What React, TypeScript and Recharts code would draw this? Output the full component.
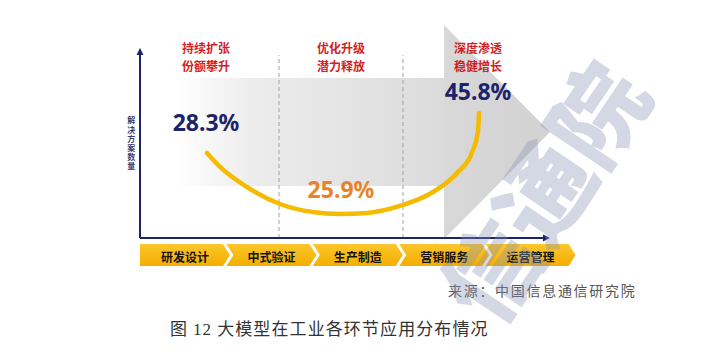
import React from 'react';
import {
  ComposedChart,
  Line,
  Scatter,
  XAxis,
  YAxis,
  ReferenceLine,
  ReferenceArea,
  ReferenceDot,
} from 'recharts';

document.body.style.margin = '0';

// stages along the value chain (x axis chevrons)
const stages = ['研发设计', '中式验证', '生产制造', '营销服务', '运营管理'];
const stageTicks = [0.5, 1.5, 2.5, 3.5, 4.5];

// phase headings + shares
const phaseTop = ['持续扩张', '优化升级', '深度渗透'];
const phaseBottom = ['份额攀升', '潜力释放', '稳健增长'];
const shares = ['28.3%', '25.9%', '45.8%'];
const shareX = [0.764, 2.326, 3.912];
const shareY = [49.1, 18.3, 63.3];

// smile curve
const curveX = [0.775, 0.926, 1.238, 1.62, 2.002, 2.315, 2.627, 3.009, 3.391, 3.669, 3.854, 3.912, 3.924];
const curveY = [39.0, 32.6, 23.4, 15.6, 11.9, 11.0, 11.5, 14.7, 21.1, 29.8, 40.4, 49.1, 57.3];

// phase dividers
const dividerX = [1.609, 3.044];

const curveData = curveX.map((x, i) => ({ x, y: curveY[i] }));
const shareData = shares.map((label, i) => ({ x: shareX[i], y: shareY[i], label, idx: i }));
const phaseData = phaseTop.map((t, i) => ({ x: shareX[i], y: 84.4, top: t, bottom: phaseBottom[i] }));

const NAVY = '#1c2368';
const RED = '#d21e24';

const StageTick = (props: any) => {
  const { x, y, payload } = props;
  const i = Math.floor(payload.value);
  const L = x - 43.2;
  const top = y + 6;
  const bot = y + 28;
  const mid = (top + bot) / 2;
  const pts =
    i === 0
      ? `${L},${top} ${L + 83},${top} ${L + 90},${mid} ${L + 83},${bot} ${L},${bot}`
      : `${L},${top} ${L + 83},${top} ${L + 90},${mid} ${L + 83},${bot} ${L},${bot} ${L + 7},${mid}`;
  return (
    <g>
      <polygon points={pts} fill="url(#chevGrad)" />
      <text
        x={L + 45}
        y={mid + 1}
        textAnchor="middle"
        dominantBaseline="central"
        fontSize={12}
        fontWeight={700}
        fill="#141414"
        fontFamily="'Noto Sans CJK SC', sans-serif"
      >
        {stages[i]}
      </text>
    </g>
  );
};

const ShareLabel = (props: any) => {
  const { cx, cy, payload } = props;
  const color = payload.idx === 1 ? '#e8832a' : NAVY;
  return (
    <text
      x={cx}
      y={cy}
      textAnchor="middle"
      fontSize={23}
      fontWeight={700}
      fontFamily="'Noto Sans', sans-serif"
      fill={color}
    >
      {payload.label}
    </text>
  );
};

// two-line red heading
const PhaseLabel = (props: any) => {
  const { cx, cy, payload } = props;
  const common = {
    x: cx,
    textAnchor: 'middle' as const,
    fontSize: 12,
    fontWeight: 700,
    fill: RED,
    fontFamily: "'Noto Sans CJK SC', sans-serif",
  };
  return (
    <g>
      <text {...common} y={cy - 1}>
        {payload.top}
      </text>
      <text {...common} y={cy + 16.5}>
        {payload.bottom}
      </text>
    </g>
  );
};

const ArrowHead = (dir: 'up' | 'right') => (props: any) => {
  const { cx, cy } = props;
  const pts =
    dir === 'up'
      ? `${cx - 3.5},${cy + 7} ${cx},${cy} ${cx + 3.5},${cy + 7}`
      : `${cx - 7},${cy - 3.5} ${cx},${cy} ${cx - 7},${cy + 3.5}`;
  return <polygon points={pts} fill={NAVY} />;
};

// vertical y-axis title, one text element written top to bottom
const YTitle = (props: any) => {
  const { cx, cy } = props;
  return (
    <text
      x={cx}
      y={cy}
      fontSize={8}
      fontWeight={700}
      fill="#3a3f6e"
      textAnchor="middle"
      fontFamily="'Noto Sans CJK SC', sans-serif"
      style={{ writingMode: 'vertical-rl', letterSpacing: 1.2 }}
    >
      解决方案数量
    </text>
  );
};

const HeadShape = (props: any) => {
  const { x, y, width, height } = props;
  const pts = `${x},${y} ${x + width},${y + height / 2} ${x},${y + height}`;
  return <polygon points={pts} fill="url(#headGrad)" />;
};

export default function App() {
  return (
    <div style={{ position: 'relative', width: 718, height: 354, background: '#fff', overflow: 'hidden' }}>
      <ComposedChart
        width={718}
        height={354}
        margin={{ top: 20, right: 146, left: 140, bottom: 86 }}
      >
        <defs>
          <linearGradient id="shaftGrad" x1="0" y1="0" x2="1" y2="0">
            <stop offset="0%" stopColor="#ffffff" />
            <stop offset="30%" stopColor="#ececec" />
            <stop offset="100%" stopColor="#dbdbdb" />
          </linearGradient>
          <linearGradient id="headGrad" x1="0" y1="0" x2="1" y2="0">
            <stop offset="0%" stopColor="#d8d8d8" />
            <stop offset="100%" stopColor="#d2d2d2" />
          </linearGradient>
          <linearGradient id="chevGrad" x1="0" y1="0" x2="0" y2="1">
            <stop offset="0%" stopColor="#fcc62c" />
            <stop offset="100%" stopColor="#f4ae00" />
          </linearGradient>
        </defs>
        <XAxis
          dataKey="x"
          type="number"
          domain={[0, 5]}
          ticks={stageTicks}
          interval={0}
          tick={<StageTick />}
          tickLine={false}
          axisLine={false}
          tickSize={0}
          tickMargin={0}
          height={30}
        />
        <YAxis type="number" domain={[0, 100]} hide />

        <ReferenceArea x1={0.405} x2={3.519} y1={23.85} y2={73.4} fill="url(#shaftGrad)" fillOpacity={1} stroke="none" ifOverflow="visible" />
        <ReferenceArea x1={3.519} x2={4.745} y1={-0.46} y2={97.7} shape={HeadShape} ifOverflow="visible" />

        {dividerX.map((dx) => (
          <ReferenceLine
            key={dx}
            segment={[{ x: dx, y: 0 }, { x: dx, y: 83.9 }]}
            stroke="#a0a0a0"
            strokeDasharray="4 3"
            strokeWidth={1}
            ifOverflow="visible"
          />
        ))}

        <ReferenceLine segment={[{ x: 0, y: 0 }, { x: 0, y: 86.5 }]} stroke={NAVY} strokeWidth={2} ifOverflow="visible" />
        <ReferenceLine segment={[{ x: 0, y: 0 }, { x: 4.7, y: 0 }]} stroke={NAVY} strokeWidth={2} ifOverflow="visible" />
        <ReferenceDot x={0} y={87.2} r={0} shape={ArrowHead('up')} ifOverflow="visible" />
        <ReferenceDot x={4.745} y={0} r={0} shape={ArrowHead('right')} ifOverflow="visible" />
        <ReferenceDot x={-0.1} y={43.1} r={0} shape={YTitle} ifOverflow="visible" />

        <Line
          data={curveData}
          dataKey="y"
          type="monotone"
          stroke="#f4bb00"
          strokeWidth={4.5}
          strokeLinecap="round"
          dot={false}
          activeDot={false}
          isAnimationActive={false}
        />
        <Scatter data={shareData} dataKey="y" shape={ShareLabel} isAnimationActive={false} />
        <Scatter data={phaseData} dataKey="y" shape={PhaseLabel} isAnimationActive={false} />
      </ComposedChart>

      <div
        style={{
          position: 'absolute',
          left: 448,
          top: 280,
          fontSize: 14,
          letterSpacing: 1.7,
          color: '#555',
          fontFamily: "'Noto Sans CJK SC', sans-serif",
          whiteSpace: 'nowrap',
        }}
      >
        来源：中国信息通信研究院
      </div>
      <div
        style={{
          position: 'absolute',
          left: 170,
          top: 315,
          fontSize: 17,
          letterSpacing: 1.1,
          color: '#333',
          fontFamily: "'Noto Sans CJK SC', sans-serif",
          whiteSpace: 'nowrap',
        }}
      >
        图 <span style={{ fontFamily: "'Liberation Serif', serif" }}>12</span> 大模型在工业各环节应用分布情况
      </div>

      <div
        style={{
          position: 'absolute',
          left: 540,
          top: 190,
          transform: 'translate(-50%, -50%) rotate(-56deg)',
          fontSize: 95,
          fontWeight: 900,
          color: '#8a93b5',
          opacity: 0.36,
          whiteSpace: 'nowrap',
          fontFamily: "'Noto Sans CJK SC', sans-serif",
          pointerEvents: 'none',
          lineHeight: 1,
        }}
      >
        信通院
      </div>
    </div>
  );
}
